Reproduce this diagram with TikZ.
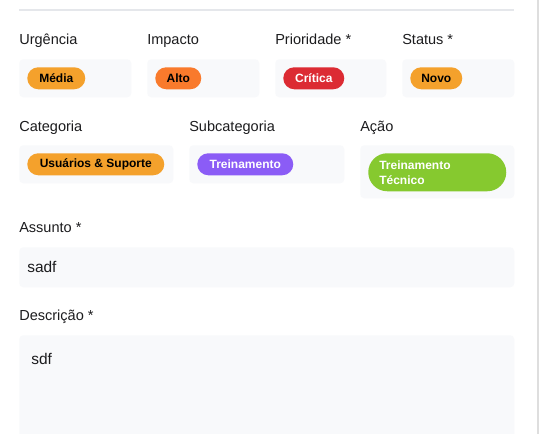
\documentclass[tikz,border=0pt]{standalone}
\usepackage{fontspec}
\setmainfont{Liberation Sans}
\definecolor{fieldbg}{HTML}{F8F9FB}
\definecolor{labeltext}{HTML}{1C1C1E}
\definecolor{sepline}{HTML}{E5E7EB}
\definecolor{edgeline}{HTML}{DEDEDE}
\definecolor{amber}{HTML}{F4A12C}
\definecolor{orangep}{HTML}{F97A2C}
\definecolor{redp}{HTML}{DC2B33}
\definecolor{violetp}{HTML}{8B5CF6}
\definecolor{limep}{HTML}{86C92F}
\def\u{0.75pt}
\tikzset{
  field/.style={fill=fieldbg, rounded corners=4*\u, inner sep=0pt, anchor=north west},
  lbl/.style={anchor=base west, inner sep=0pt, text=labeltext, font=\fontsize{10.9}{13}\selectfont},
  pill/.style={rounded corners=11*\u, inner sep=0pt, minimum height=22*\u, anchor=north west,
               font=\fontsize{9}{11}\bfseries\selectfont},
  darktext/.style={text=black},
  lighttext/.style={text=white},
  value/.style={anchor=base west, inner sep=0pt, text=labeltext, font=\fontsize{11.6}{14}\selectfont},
}
\begin{document}
\begin{tikzpicture}[x=0.75pt, y=-0.75pt]
\useasboundingbox (0,0) rectangle (539,434);
\fill[white] (0,0) rectangle (539,434);
\begin{scope}
\clip (0,0) rectangle (539,434);
% separators
\draw[sepline, line width=1.2*\u] (19,10) -- (514,10);
\draw[edgeline, line width=1.2*\u] (538,0) -- (538,434);

% row 1 labels
\node[lbl] (lurg) at (19,45) {Urgência};
\node[lbl] (limp) at (147,45) {Impacto};
\node[lbl] (lpri) at (275,45) {Prioridade *};
\node[lbl] (lsta) at (402,45) {Status *};

% row 1 fields
\node[field, minimum width=112*\u, minimum height=38*\u] (furg) at (19,59) {};
\node[field, minimum width=112*\u, minimum height=38*\u] (fimp) at (147,59) {};
\node[field, minimum width=111*\u, minimum height=38*\u] (fpri) at (275,59) {};
\node[field, minimum width=112*\u, minimum height=38*\u] (fsta) at (402,59) {};

% row 1 pills
\node[pill, fill=amber, darktext, minimum width=58*\u] (purg) at (27,67) {Média};
\node[pill, fill=orangep, darktext, minimum width=46*\u] (pimp) at (155,67) {Alto};
\node[pill, fill=redp, lighttext, minimum width=61*\u] (ppri) at (283,67) {Crítica};
\node[pill, fill=amber, darktext, minimum width=52*\u] (psta) at (410,67) {Novo};

% row 2 labels
\node[lbl] (lcat) at (19,132) {Categoria};
\node[lbl] (lsub) at (189,132) {Subcategoria};
\node[lbl] (lacao) at (360,132) {Ação};

% row 2 fields
\node[field, minimum width=154*\u, minimum height=38*\u] (fcat) at (19,145) {};
\node[field, minimum width=155*\u, minimum height=38*\u] (fsub) at (189,145) {};
\node[field, minimum width=154*\u, minimum height=53*\u] (facao) at (360,145) {};

% row 2 pills
\node[pill, fill=amber, darktext, minimum width=137*\u] (pcat) at (27,153) {Usuários \& Suporte};
\node[pill, fill=violetp, lighttext, minimum width=96*\u] (psub) at (197,153) {Treinamento};
\node[pill, fill=limep, lighttext, minimum height=38*\u, rounded corners=19*\u,
      inner xsep=11*\u, text width=116*\u, align=left,
      font=\fontsize{9}{11.25}\bfseries\selectfont] (pacao) at (368,153) {Treinamento\\Técnico};

% assunto
\node[lbl] (lass) at (19,233) {Assunto *};
\node[field, minimum width=495*\u, minimum height=40*\u] (fass) at (19,247) {};
\node[value] (vass) at (27,273) {sadf};

% descricao
\node[lbl] (ldesc) at (19,321) {Descrição *};
\node[field, minimum width=495*\u, minimum height=120*\u] (fdesc) at (19,335) {};
\node[value] (vdesc) at (31,365) {sdf};
\end{scope}
\end{tikzpicture}
\end{document}
